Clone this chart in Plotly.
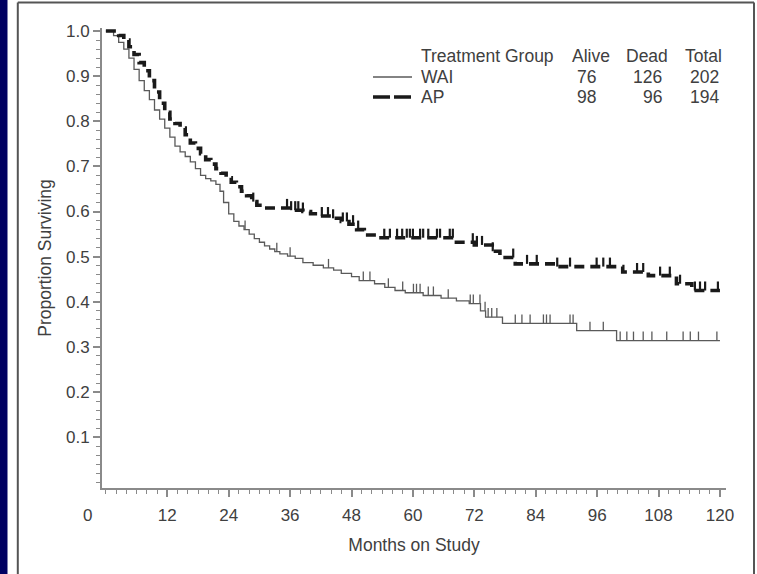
import numpy as np
import plotly.graph_objects as go

# ---------------- data ----------------
wai_t = [0, 1.5, 2.5, 3.5, 4.5, 5.5, 6.5, 7.5, 8.5, 9.5, 10.5, 11.5, 12.5, 13.5,
         14.5, 15.5, 16.5, 17.5, 18.5, 19.5, 20.5, 21.5, 22.3, 23, 24, 25, 26, 27,
         28, 29, 30, 31, 32, 33, 34, 35.5, 37, 38.5, 40.5, 42.5, 44.5, 46, 48,
         49.5, 52.5, 54.5, 56.5, 58.5, 62, 65.5, 68.5, 71, 73.2, 74.2, 77.5, 92,
         99.8, 120]
wai_s = [1.0, 0.99, 0.975, 0.96, 0.94, 0.915, 0.89, 0.868, 0.848, 0.825, 0.805,
         0.785, 0.765, 0.745, 0.732, 0.722, 0.71, 0.695, 0.68, 0.673, 0.668, 0.66,
         0.645, 0.62, 0.595, 0.578, 0.568, 0.56, 0.55, 0.54, 0.532, 0.524, 0.517,
         0.511, 0.506, 0.501, 0.496, 0.487, 0.481, 0.475, 0.47, 0.463, 0.456,
         0.447, 0.44, 0.432, 0.425, 0.42, 0.414, 0.408, 0.402, 0.396, 0.38, 0.366,
         0.352, 0.336, 0.314, 0.314]
wai_cens = [27.2, 33.4, 36, 43.5, 50.3, 51.6, 55.2, 58, 60.1, 60.7, 61.4, 63, 64,
            66.9, 71.2, 71.8, 73.1, 74.1, 74.7, 75.4, 76.4, 80, 81.3, 82.9, 85.5,
            86.1, 86.8, 90.7, 91.3, 94.6, 97.2, 100.5, 101.8, 103.1, 105, 106.7,
            109.6, 112.8, 114.2, 115.8, 119.4]

ap_t = [0, 2.5, 3.5, 4.5, 5.5, 6.5, 7.5, 8.5, 9.5, 10.5, 11.5, 12.5, 13.5, 14.5,
        15.5, 16.5, 17.5, 18.5, 19.5, 20.5, 21.5, 22.5, 23.5, 24.5, 25.5, 26.5,
        27.5, 28.5, 29.5, 31, 36, 38.5, 40, 42, 44, 46, 47.5, 49, 50.5, 53, 68.5,
        72, 75.5, 77, 80, 88, 101, 106, 111.5, 114.5, 120]
ap_s = [1.0, 0.99, 0.98, 0.965, 0.948, 0.93, 0.912, 0.89, 0.865, 0.84, 0.82,
        0.805, 0.795, 0.785, 0.77, 0.752, 0.74, 0.728, 0.715, 0.705, 0.695, 0.685,
        0.675, 0.665, 0.655, 0.645, 0.635, 0.622, 0.614, 0.608, 0.603, 0.6, 0.595,
        0.59, 0.585, 0.578, 0.572, 0.56, 0.548, 0.542, 0.532, 0.526, 0.512, 0.498,
        0.484, 0.478, 0.466, 0.458, 0.44, 0.425, 0.425]
ap_cens = [28.8, 35.4, 36.2, 37, 37.6, 38.5, 42.2, 43.4, 44.4, 46.3, 47.1, 48.3,
           49.3, 54.4, 55.5, 56.9, 57.9, 58.8, 59.4, 60, 61.4, 62, 63, 64.7, 65.3,
           67.2, 67.8, 71.7, 72.5, 73.5, 75.6, 79.6, 82.3, 84.2, 88.2, 90.7, 95.9,
           97.2, 98.5, 103.8, 105, 108.3, 110.2, 112.2, 115.1, 116.1, 117.1, 119.6]

groups = ["WAI", "AP"]
alive = [76, 98]
dead = [126, 96]
total = [202, 194]
headers = ["Treatment Group", "Alive", "Dead", "Total"]

x_ticks = [12, 24, 36, 48, 60, 72, 84, 96, 108, 120]
y_ticks = [0.1, 0.2, 0.3, 0.4, 0.5, 0.6, 0.7, 0.8, 0.9, 1.0]


def step_at(ts, ss, q):
    idx = np.searchsorted(np.asarray(ts), np.asarray(q), side="right") - 1
    return np.asarray(ss)[idx]


# ---------------- layout geometry ----------------
W, H = 757, 574
ML, MR, MT, MB = 102, 31, 28, 86
PW, PH = W - ML - MR, H - MT - MB


def px2x(px):
    return (px - ML) / PW


def py2y(py):
    return (H - MB - py) / PH


FONT = "Liberation Sans, Arial, sans-serif"
TXT = "#404040"
FS = 17.5
FS_TICK = 17
SOLID_C = "#5a5a5a"
DASH_C = "#1a1a1a"
TICK_H = 0.02

fig = go.Figure()

fig.add_trace(go.Scatter(x=wai_t, y=wai_s, mode="lines", line_shape="hv",
                         line=dict(color=SOLID_C, width=1.3), name="WAI",
                         showlegend=False, hoverinfo="skip"))
fig.add_trace(go.Scatter(x=wai_cens, y=step_at(wai_t, wai_s, wai_cens), mode="markers",
                         marker=dict(size=1, color="rgba(0,0,0,0)"),
                         error_y=dict(type="constant", value=TICK_H, valueminus=0,
                                      symmetric=False, width=0, thickness=1.3,
                                      color=SOLID_C),
                         showlegend=False, hoverinfo="skip"))

fig.add_trace(go.Scatter(x=ap_t, y=ap_s, mode="lines", line_shape="hv",
                         line=dict(color=DASH_C, width=3.6, dash="10px,6px"), name="AP",
                         showlegend=False, hoverinfo="skip"))
fig.add_trace(go.Scatter(x=ap_cens, y=step_at(ap_t, ap_s, ap_cens), mode="markers",
                         marker=dict(size=1, color="rgba(0,0,0,0)"),
                         error_y=dict(type="constant", value=TICK_H, valueminus=0,
                                      symmetric=False, width=0, thickness=2.2,
                                      color=DASH_C),
                         showlegend=False, hoverinfo="skip"))

axis_common = dict(showgrid=False, zeroline=False, showline=True,
                   linecolor="#8a8a8a", linewidth=2, ticks="outside",
                   tickcolor="#8a8a8a", tickwidth=1.5, ticklen=7,
                   tickfont=dict(family=FONT, size=FS_TICK, color=TXT))

fig.update_xaxes(range=[-0.76, 121.18], tickvals=x_ticks,
                 ticktext=[str(v) for v in x_ticks],
                 minor=dict(dtick=2, tick0=0, ticklen=4, ticks="outside",
                            tickcolor="#8a8a8a", tickwidth=1.3),
                 ticklabelstandoff=4,
                 title=dict(text="Months on Study", standoff=14,
                            font=dict(family=FONT, size=FS, color=TXT)),
                 **axis_common)
fig.update_yaxes(range=[-0.0126, 1.0067], tickvals=y_ticks,
                 ticktext=[f"{v:.1f}" for v in y_ticks],
                 minor=dict(dtick=0.02, tick0=0, ticklen=4, ticks="outside",
                            tickcolor="#8a8a8a", tickwidth=1.3),
                 ticklabelstandoff=0,
                 title=dict(text="Proportion Surviving", standoff=10,
                            font=dict(family=FONT, size=FS, color=TXT)),
                 **axis_common)

shapes = []
# navy strip at the left and the panel frame
shapes.append(dict(type="rect", xref="paper", yref="paper", x0=px2x(-2), x1=px2x(7.5),
                   y0=py2y(H + 2), y1=py2y(-2), fillcolor="#000062", line=dict(width=0),
                   layer="below"))
frame = dict(color="#555555", width=2)
shapes.append(dict(type="line", xref="paper", yref="paper", x0=px2x(17.8), x1=px2x(17.8),
                   y0=py2y(2.5), y1=py2y(H + 2), line=frame))
shapes.append(dict(type="line", xref="paper", yref="paper", x0=px2x(17.8), x1=px2x(754),
                   y0=py2y(2.5), y1=py2y(2.5), line=frame))
shapes.append(dict(type="line", xref="paper", yref="paper", x0=px2x(754), x1=px2x(754),
                   y0=py2y(2.5), y1=py2y(H + 2), line=frame))
# legend line samples
shapes.append(dict(type="line", xref="paper", yref="paper", x0=px2x(373), x1=px2x(412),
                   y0=py2y(77), y1=py2y(77), line=dict(color=SOLID_C, width=1.3)))
shapes.append(dict(type="line", xref="paper", yref="paper", x0=px2x(373), x1=px2x(412),
                   y0=py2y(97), y1=py2y(97),
                   line=dict(color=DASH_C, width=3.6, dash="17px,4px")))

ann = []


def txt(s, px, py, anchor, size=FS):
    ann.append(dict(text=s, xref="paper", yref="paper", x=px2x(px), y=py2y(py),
                    xanchor=anchor, yanchor="middle", showarrow=False,
                    font=dict(family=FONT, size=size, color=TXT)))


txt(headers[0], 419, 56, "left")
txt(headers[1], 591, 56, "center")
txt(headers[2], 647, 56, "center")
txt(headers[3], 703, 56, "center")
for i, g in enumerate(groups):
    py = 77 + 20 * i
    txt(g, 419, py, "left")
    txt(str(alive[i]), 598, py, "right")
    txt(str(dead[i]), 664, py, "right")
    txt(str(total[i]), 721, py, "right")

# the "0" label of the month axis sits left of the axis in the reference
txt("0", 87, 515, "center", FS_TICK)

fig.update_layout(width=W, height=H, margin=dict(l=ML, r=MR, t=MT, b=MB),
                  paper_bgcolor="white", plot_bgcolor="white",
                  shapes=shapes, annotations=ann, showlegend=False)

fig.write_html("out.html", config={"displayModeBar": False},
               post_script="document.body.style.margin='0px';"
                           "document.body.style.overflow='hidden';")
